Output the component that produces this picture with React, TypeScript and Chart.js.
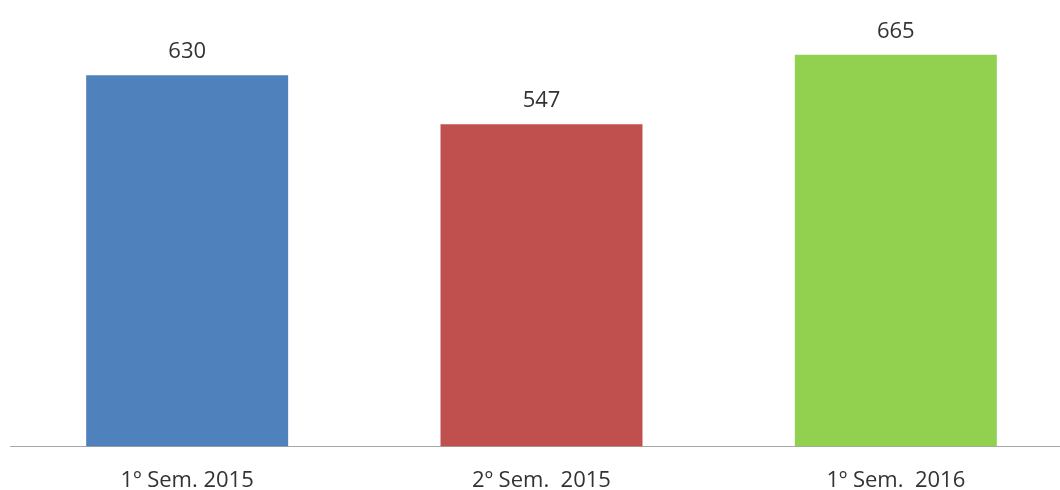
import React, { useEffect, useRef } from "react";
import { Chart, registerables } from "chart.js";

Chart.register(...registerables);

const categories = ["1º Sem. 2015", "2º Sem.  2015", "1º Sem.  2016"];
const values = [630, 547, 665];
const barColors = ["#4F81BD", "#C0504D", "#92D050"];

const FONT = "'Open Sans', 'Noto Sans', sans-serif";

const valueLabels = {
  id: "valueLabels",
  afterDatasetsDraw(chart: any) {
    const ctx = chart.ctx;
    const meta = chart.getDatasetMeta(0);
    ctx.save();
    ctx.font = `22px ${FONT}`;
    ctx.fillStyle = "#333333";
    ctx.textAlign = "center";
    ctx.textBaseline = "alphabetic";
    meta.data.forEach((bar: any, i: number) => {
      ctx.fillText(String(values[i]), bar.x, bar.y - 17);
    });
    ctx.restore();
  },
};

export default function App() {
  const ref = useRef<HTMLCanvasElement>(null);
  useEffect(() => {
    if (!ref.current) return;
    const chart = new Chart(ref.current, {
      type: "bar",
      data: {
        labels: categories,
        datasets: [
          {
            data: values,
            backgroundColor: barColors,
            barPercentage: 0.57,
            categoryPercentage: 1,
          },
        ],
      },
      options: {
        animation: false,
        responsive: false,
        maintainAspectRatio: false,
        layout: { padding: { top: 34, bottom: 7, left: 10, right: 0 } },
        plugins: { legend: { display: false }, tooltip: { enabled: false } },
        scales: {
          x: {
            grid: { display: false, drawTicks: false },
            border: { display: true, color: "#A6A6A6", width: 1 },
            ticks: {
              padding: 21,
              color: "#333333",
              font: { family: FONT, size: 22 },
            },
          },
          y: {
            display: false,
            min: 0,
            max: 700,
          },
        },
      },
      plugins: [valueLabels],
    });
    return () => chart.destroy();
  }, []);
  return (
    <div style={{ position: "fixed", left: 0, top: 0, width: 1060, height: 490, overflow: "hidden", background: "#fff" }}>
      <canvas ref={ref} width={1073} height={522} style={{ display: "block" }} />
    </div>
  );
}
